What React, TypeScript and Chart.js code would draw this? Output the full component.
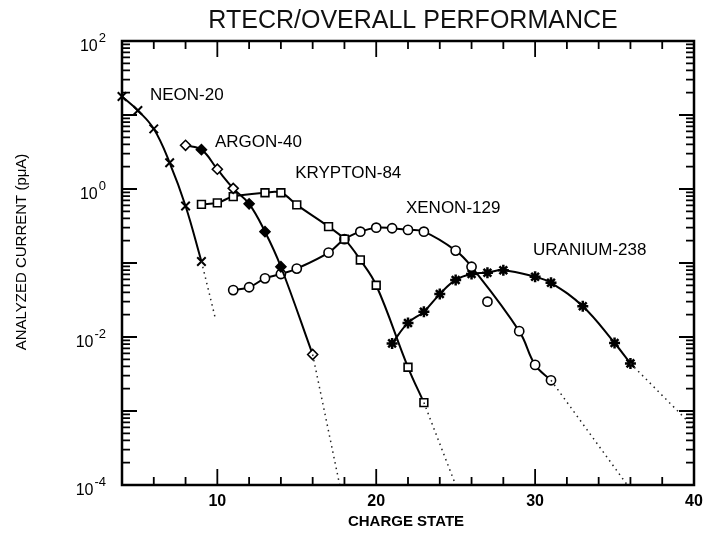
import React, { useEffect, useRef } from 'react';
import { Chart, registerables } from 'chart.js';

Chart.register(...registerables);

const FONT = '"Liberation Sans", "DejaVu Sans", sans-serif';

const chartTitle = 'RTECR/OVERALL PERFORMANCE';
const xTitle = 'CHARGE STATE';
const yTitle = 'ANALYZED CURRENT (pμA)';

// Neon-20
const neonCharge = [4, 5, 6, 7, 8, 9];
const neonCurrent = [17.8, 11.5, 6.5, 2.26, 0.59, 0.105];
const neonTailCharge = [9, 9.9];
const neonTailCurrent = [0.105, 0.017];

// Argon-40
const argonCharge = [8, 9, 10, 11, 12, 13, 14, 16];
const argonCurrent = [3.9, 3.4, 1.85, 1.02, 0.63, 0.265, 0.089, 0.0058];
const argonFilled = [false, true, false, false, true, true, true, false];
const argonTailCharge = [16, 17.7];
const argonTailCurrent = [0.0058, 0.0001];

// Krypton-84
const kryptonCharge = [9, 10, 11, 13, 14, 15, 17, 18, 19, 20, 22, 23];
const kryptonCurrent = [0.62, 0.65, 0.79, 0.89, 0.89, 0.61, 0.31, 0.21, 0.11, 0.05, 0.0039, 0.0013];
const kryptonTailCharge = [23, 25];
const kryptonTailCurrent = [0.0013, 0.0001];

// Xenon-129
const xenonCharge = [11, 12, 13, 14, 15, 17, 18, 19, 20, 21, 22, 23, 25, 26, 29, 30, 31];
const xenonCurrent = [0.043, 0.047, 0.062, 0.071, 0.084, 0.138, 0.21, 0.265, 0.3, 0.295, 0.28, 0.265, 0.147, 0.089, 0.012, 0.0042, 0.0026];
const xenonOutlierCharge = [27];
const xenonOutlierCurrent = [0.03];
const xenonTailCharge = [31, 35.8];
const xenonTailCurrent = [0.0026, 0.0001];

// Uranium-238
const uraniumCharge = [21, 22, 23, 24, 25, 26, 27, 28, 30, 31, 33, 35, 36];
const uraniumCurrent = [0.0082, 0.0155, 0.022, 0.038, 0.059, 0.071, 0.074, 0.08, 0.065, 0.054, 0.026, 0.0083, 0.0044];
const uraniumTailCharge = [36, 40];
const uraniumTailCurrent = [0.0044, 0.0006];

// In-plot series labels (anchored in data coordinates)
const seriesNames = ['NEON-20', 'ARGON-40', 'KRYPTON-84', 'XENON-129', 'URANIUM-238'];
const labelCharge = [5.76, 9.85, 14.9, 21.87, 29.87];
const labelCurrent = [18.6, 4.3, 1.64, 0.553, 0.15];

// Axis ticks
const xLabelTicks = [10, 20, 30, 40];
const xTickMarks = [6, 8, 10, 12, 14, 16, 18, 20, 22, 24, 26, 28, 30, 32, 34, 36, 38];
const yDecades = [-4, -3, -2, -1, 0, 1];
const yMultipliers = [1, 2, 3, 4, 5, 6, 7, 8, 9];
const yLabelExponents = [2, 0, -2, -4];

const pts = (xs: number[], ys: number[]) => xs.map((x, i) => ({ x, y: ys[i] }));

const curve = (data: any, extra: any) => ({
  data,
  borderColor: '#000',
  borderWidth: 2,
  tension: 0.4,
  pointBorderColor: '#000',
  pointBackgroundColor: '#fff',
  clip: false,
  ...extra,
});

const tail = (data: any) => ({
  data,
  borderColor: '#222',
  borderWidth: 1.5,
  borderDash: [1.5, 4],
  pointRadius: 0,
  tension: 0,
  clip: false,
});

const decorPlugin = {
  id: 'decor',
  afterDraw(chart: any) {
    const { ctx, chartArea: a } = chart;
    const xs = chart.scales.x;
    const ys = chart.scales.y;
    ctx.save();
    ctx.strokeStyle = '#000';
    ctx.fillStyle = '#000';

    // frame
    ctx.lineWidth = 2.5;
    ctx.strokeRect(a.left, a.top, a.right - a.left, a.bottom - a.top);

    // inward tick marks
    ctx.lineWidth = 1.8;
    ctx.beginPath();
    for (const v of xTickMarks) {
      const px = xs.getPixelForValue(v);
      const len = xLabelTicks.includes(v) ? 16 : 8;
      ctx.moveTo(px, a.bottom);
      ctx.lineTo(px, a.bottom - len);
      ctx.moveTo(px, a.top);
      ctx.lineTo(px, a.top + len);
    }
    for (const d of yDecades) {
      for (const m of yMultipliers) {
        const py = ys.getPixelForValue(m * Math.pow(10, d));
        const len = m === 1 ? 15 : 8;
        ctx.moveTo(a.left, py);
        ctx.lineTo(a.left + len, py);
        ctx.moveTo(a.right, py);
        ctx.lineTo(a.right - len, py);
      }
    }
    ctx.stroke();

    // y tick labels with superscript exponents
    const R = a.left - 16;
    for (const e of yLabelExponents) {
      const py = ys.getPixelForValue(Math.pow(10, e));
      const expStr = e < 0 ? '-' + Math.abs(e) : String(e);
      ctx.font = `13px ${FONT}`;
      const w = ctx.measureText(expStr).width;
      ctx.textAlign = 'left';
      ctx.textBaseline = 'alphabetic';
      ctx.fillText(expStr, R - w, py + 1);
      ctx.font = `16px ${FONT}`;
      ctx.textAlign = 'right';
      ctx.fillText('10', R - w - 1, py + 10);
    }

    // series labels
    ctx.font = `17px ${FONT}`;
    ctx.textAlign = 'left';
    ctx.textBaseline = 'middle';
    seriesNames.forEach((name, i) => {
      ctx.fillText(name, xs.getPixelForValue(labelCharge[i]), ys.getPixelForValue(labelCurrent[i]));
    });

    // titles
    ctx.fillStyle = '#111';
    ctx.font = `25px ${FONT}`;
    ctx.textAlign = 'center';
    ctx.fillText(chartTitle, (a.left + a.right) / 2 + 5, 21);

    ctx.fillStyle = '#000';
    ctx.font = `bold 15px ${FONT}`;
    ctx.fillText(xTitle, (a.left + a.right) / 2 - 2, 522);

    ctx.font = `15px ${FONT}`;
    ctx.translate(22, (a.top + a.bottom) / 2 - 11);
    ctx.rotate(-Math.PI / 2);
    ctx.fillText(yTitle, 0, 0);
    ctx.restore();
  },
};

export default function App() {
  const ref = useRef<HTMLCanvasElement | null>(null);

  useEffect(() => {
    if (!ref.current) return;
    const chart = new Chart(ref.current, {
      type: 'line',
      data: {
        datasets: [
          tail(pts(neonTailCharge, neonTailCurrent)),
          tail(pts(argonTailCharge, argonTailCurrent)),
          tail(pts(kryptonTailCharge, kryptonTailCurrent)),
          tail(pts(xenonTailCharge, xenonTailCurrent)),
          tail(pts(uraniumTailCharge, uraniumTailCurrent)),
          curve(pts(neonCharge, neonCurrent), { pointStyle: 'crossRot', pointRadius: 6, pointBorderWidth: 2 }),
          curve(pts(argonCharge, argonCurrent), {
            pointStyle: 'rectRot',
            pointRadius: 5,
            pointBorderWidth: 1.6,
            pointBackgroundColor: argonFilled.map((f) => (f ? '#000' : '#fff')),
          }),
          curve(pts(kryptonCharge, kryptonCurrent), { pointStyle: 'rect', pointRadius: 5.5, pointBorderWidth: 1.6 }),
          curve(pts(xenonCharge, xenonCurrent), { pointStyle: 'circle', pointRadius: 4.6, pointBorderWidth: 1.6 }),
          curve(pts(xenonOutlierCharge, xenonOutlierCurrent), {
            showLine: false,
            pointStyle: 'circle',
            pointRadius: 4.6,
            pointBorderWidth: 1.6,
          }),
          curve(pts(uraniumCharge, uraniumCurrent), { pointStyle: 'star', pointRadius: 5.5, pointBorderWidth: 2.5 }),
        ],
      },
      options: {
        responsive: false,
        animation: false,
        layout: { padding: { top: 41, right: 23, left: 0, bottom: 0 } },
        plugins: {
          legend: { display: false },
          title: { display: false },
          tooltip: { enabled: false },
        },
        scales: {
          x: {
            type: 'linear',
            min: 4,
            max: 40,
            grid: { display: false, drawTicks: false },
            border: { display: false },
            afterBuildTicks: (s: any) => {
              s.ticks = xLabelTicks.map((v) => ({ value: v }));
            },
            afterFit: (s: any) => {
              s.height = 50;
            },
            ticks: {
              autoSkip: false,
              maxRotation: 0,
              padding: 7,
              color: '#000',
              font: { family: FONT, size: 16, weight: 'bold' },
            },
          },
          y: {
            type: 'logarithmic',
            min: 1e-4,
            max: 100,
            grid: { display: false, drawTicks: false },
            border: { display: false },
            ticks: { display: false },
            afterFit: (s: any) => {
              s.width = 122;
            },
          },
        },
      } as any,
      plugins: [decorPlugin],
    });
    return () => chart.destroy();
  }, []);

  return (
    <div style={{ position: 'absolute', left: 0, top: 0, width: 717, height: 535, background: '#fff' }}>
      <canvas ref={ref} width={717} height={535} />
    </div>
  );
}
